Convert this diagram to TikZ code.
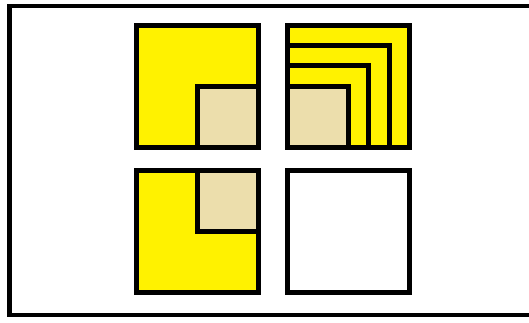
\documentclass[tikz,border=0pt]{standalone}
\usepackage{tikz}
\definecolor{sand}{RGB}{236,222,172}

\begin{document}
\begin{tikzpicture}[x=1pt, y=-1pt, line join=miter,
    tile/.style={inner sep=0pt, outer sep=0pt, minimum size=122pt},
    edge/.style={draw=black, line width=5pt}]
    \useasboundingbox (0,0) rectangle (529,322);

    % frame
    \draw[line width=4.5pt] (9.5,6) rectangle (545,315);

    % tiles
    \node[tile, fill=yellow] (tl) at (197,86) {};
    \node[tile, fill=yellow] (tr) at (348,86) {};
    \node[tile, fill=yellow] (bl) at (197,231.5) {};
    \node[tile, fill=white] (br) at (348,231.5) {};

    % sand squares
    \fill[sand] (tl.center) rectangle (tl.south east);
    \fill[sand] (tr.center) rectangle (tr.south west);
    \fill[sand] (bl.center) rectangle (bl.north east);

    % inner lines
    \draw[edge] (tl.south) |- (tl.east);
    \draw[edge] (bl.north) |- (bl.east);
    \foreach \k in {0,1,2}
        \draw[edge] ([yshift=\k*20.5pt]tr.west) -| ([xshift=\k*20.5pt]tr.south);

    % borders
    \foreach \n in {tl,tr,bl,br}
        \draw[edge] (\n.south west) rectangle (\n.north east);
\end{tikzpicture}
\end{document}
